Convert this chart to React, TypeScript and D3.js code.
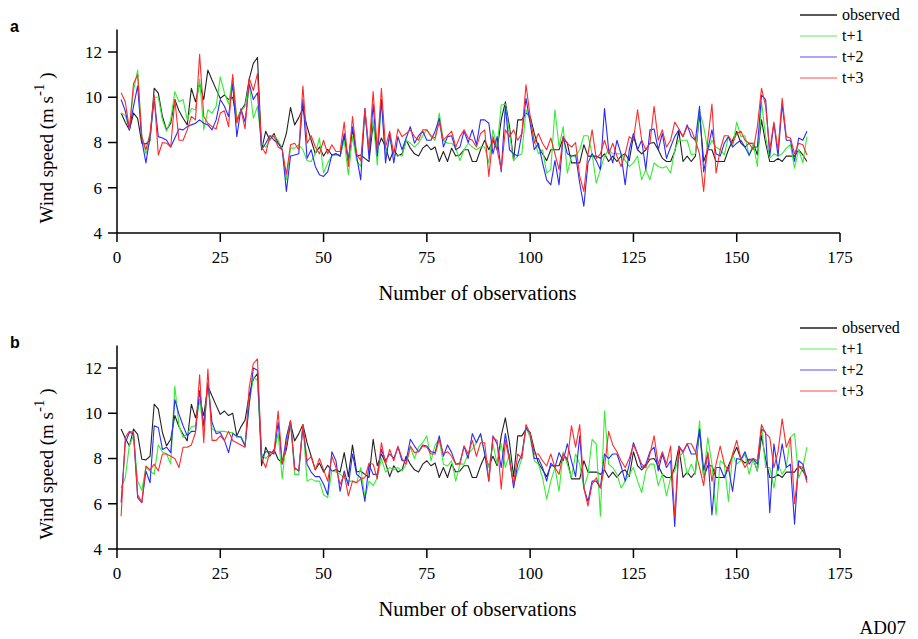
import React from "react";
import * as d3 from "d3";

// ---------- data ----------
const observed = [
  9.3, 8.9, 8.55, 9.3, 9.07, 7.97, 7.94, 8.1, 10.4, 10.18, 9.15, 8.56, 8.85, 9.9, 9.4, 9.07, 8.78, 10.4, 9.8, 10.6,
  9.9, 11.2, 10.76, 10.35, 9.95, 10.1, 9.9, 10.0, 9.0, 9.4, 9.7, 10.8, 11.5, 11.76, 7.68, 8.5, 8.1, 8.4, 7.97, 7.8,
  8.4, 9.55, 8.78, 9.1, 9.5, 8.7, 8.1, 7.5, 7.8, 7.4, 7.7, 7.45, 7.5, 7.4, 8.26, 7.2, 8.6, 7.4, 7.45, 7.3,
  7.16, 8.85, 7.68, 8.2, 7.8, 7.2, 7.68, 7.4, 7.5, 8.1, 7.75, 7.5, 7.4, 7.75, 7.9, 7.68, 7.8, 7.16, 7.6, 7.16,
  7.75, 7.4, 7.45, 7.68, 7.68, 7.16, 7.16, 7.68, 8.1, 7.68, 8.1, 7.68, 9.0, 9.8, 8.7, 7.2, 9.0, 9.0, 9.3, 9.15,
  8.4, 7.8, 7.5, 7.2, 7.68, 7.68, 7.68, 8.2, 7.97, 7.1, 7.1, 7.1, 7.9, 7.4, 7.4, 7.4, 7.3, 7.5, 7.16, 7.4,
  7.16, 7.4, 7.5, 7.2, 8.3, 7.68, 7.5, 7.68, 7.97, 8.0, 7.68, 7.3, 7.16, 7.16, 7.6, 8.5, 7.16, 7.4, 7.16, 7.4,
  9.3, 7.16, 7.68, 7.68, 7.16, 7.16, 7.16, 7.68, 8.1, 8.5, 7.97, 7.8, 7.97, 7.97, 7.45, 9.0, 7.97, 7.16, 7.16, 7.3,
  7.16, 7.4, 7.4, 7.4, 7.68, 7.45, 7.16,
];

const aT1 = [
  9.3, 9.2, 8.6, 10.3, 11.2, 8.3, 7.5, 8.1, 10.0, 10.0, 9.0, 8.5, 9.0, 10.25, 9.8, 9.9, 9.0, 9.5, 9.45, 10.8,
  8.56, 9.45, 9.3, 9.6, 10.9, 10.2, 9.7, 10.9, 9.07, 9.4, 9.6, 10.6, 9.07, 9.6, 7.97, 7.8, 8.1, 8.3, 8.1, 7.7,
  6.35, 7.75, 7.75, 7.9,
  7.68, 7.2, 7.16, 7.5, 8.2, 6.65, 7.1, 7.4, 7.45, 7.4, 8.1, 6.57, 8.26, 7.2, 6.94, 9.3, 7.68, 9.0, 7.0, 9.9,
  7.4, 8.2, 7.45, 7.45, 7.4, 8.1, 7.97, 7.8, 7.97, 8.3, 8.56, 8.26, 8.1, 9.3, 8.1, 7.97, 7.97, 7.75, 7.2, 7.68,
  7.97, 7.8, 7.68, 7.8,
  7.8, 7.1, 8.56, 7.8, 9.66, 9.7, 8.4, 7.2, 7.4, 7.5, 9.45, 9.0, 8.1, 7.5, 7.68, 6.65, 6.8, 9.45, 7.8, 8.7,
  6.65, 7.4, 7.4, 7.68, 8.3, 8.3, 7.5, 6.2, 6.8, 7.4, 7.68, 7.5, 7.5, 7.5, 7.2, 6.94, 7.1, 7.4, 6.35, 6.8, 6.35,
  7.1, 6.94, 6.87, 6.94, 6.65, 7.68, 8.1, 8.1, 8.1, 7.45, 7.5, 9.4, 8.7, 7.68, 8.1, 7.8, 7.68, 7.45, 8.26, 7.8,
  8.9, 8.26, 8.3, 7.4, 7.97, 6.94, 9.8, 8.26, 7.3, 7.5, 7.4, 7.5, 7.75, 7.9, 6.87, 7.68, 7.1, 8.26,
];

const aT2 = [
  9.9, 9.4, 8.56, 9.6, 10.5, 8.1, 7.1, 8.26, 9.95, 8.26, 8.2, 8.1, 7.8, 8.2, 8.6, 8.56, 8.7, 8.78, 8.85, 9.0,
  8.85, 8.78, 8.56, 9.0, 9.9, 9.6, 9.15, 10.6, 8.26, 9.5, 8.9, 10.6, 9.9, 10.2, 7.68, 7.97, 8.3, 8.1, 7.97, 7.68,
  5.84, 7.4, 7.45, 7.5,
  9.9, 7.3, 7.68, 6.94, 6.57, 6.5, 6.7, 7.45, 7.5, 7.4, 8.4, 7.2, 8.7, 7.4, 6.35, 9.5, 7.3, 9.7, 7.4, 9.9,
  7.1, 8.4, 7.1, 8.26, 7.68, 8.2, 8.7, 7.97, 8.3, 8.5, 8.1, 8.1, 8.5, 9.07, 7.8, 8.26, 8.3, 7.68, 7.8, 8.5,
  8.0, 8.56, 7.9, 9.0,
  9.0, 8.85, 7.5, 8.26, 6.7, 9.6, 7.68, 7.5, 7.4, 8.4, 9.95, 8.85, 7.68, 7.97, 7.1, 6.35, 6.13, 7.2, 6.13, 8.26,
  7.5, 7.4, 7.45, 6.2, 5.18, 7.1, 7.5, 7.2, 6.8, 9.5, 7.68, 7.1, 8.1, 7.5, 6.13, 7.68, 8.4, 7.68, 8.1, 6.8, 8.56,
  8.6, 7.68, 8.4, 7.3, 7.8, 8.26, 8.56, 8.26, 8.78, 8.26, 8.1, 9.6, 6.7, 7.68, 8.56, 7.5, 7.4, 7.97, 8.26, 7.8,
  7.97, 8.1, 7.8, 7.45, 7.8, 7.8, 10.1, 9.9, 7.4, 8.85, 7.4, 9.7, 8.1, 8.1, 7.16, 8.2, 8.1, 8.5,
];

const aT3 = [
  10.2, 9.8, 8.6, 10.6, 11.0, 8.26, 7.68, 8.4, 10.1, 7.45, 8.0, 7.97, 7.8, 9.9, 8.1, 8.1, 8.56, 9.15, 9.0, 11.9,
  9.15, 8.85, 8.7, 8.6, 9.3, 9.4, 8.7, 11.0, 8.85, 9.45, 8.6, 10.85, 10.3, 11.05, 7.8, 7.5, 8.3, 8.26, 7.8, 7.68,
  6.6, 7.9, 7.97, 7.68,
  10.5, 7.97, 8.3, 7.8, 7.5, 8.1, 7.5, 7.9, 7.6, 7.6, 8.9, 6.94, 9.15, 7.5, 7.2, 9.5, 7.68, 10.25, 7.68, 10.4,
  7.8, 8.5, 7.5, 8.6, 8.26, 8.4, 8.56, 8.26, 8.1, 8.56, 8.56, 8.3, 8.2, 8.9, 8.1, 8.3, 8.5, 7.8, 8.26, 8.56,
  8.2, 8.1, 7.8, 8.4,
  8.56, 6.5, 8.26, 7.68, 6.8, 8.56, 8.26, 8.56, 8.1, 8.4, 10.55, 9.15, 7.97, 8.4, 7.97, 7.68, 8.2, 7.5, 6.8, 8.26,
  7.97, 7.8, 8.0, 6.5, 5.84, 7.5, 8.56, 7.3, 7.5, 8.1, 7.5, 7.97, 7.4, 6.94, 7.5, 8.26, 8.1, 9.45, 8.1, 7.68, 7.97,
  9.6, 8.1, 8.56, 7.8, 8.1, 8.9, 8.6, 8.26, 8.7, 8.56, 8.1, 7.5, 5.84, 8.1, 9.7, 6.65, 7.68, 8.3, 8.3, 7.97,
  8.4, 8.5, 8.1, 7.97, 7.68, 8.7, 10.4, 9.6, 7.68, 8.9, 7.68, 9.95, 8.26, 8.2, 7.5, 7.97, 7.9, 7.45,
];

const bT1 = [
  6.7, 7.15, 8.6, 9.0, 7.0, 6.6, 7.6, 7.45, 7.3, 8.6, 8.3, 8.2, 7.75, 11.2, 9.45, 8.93, 9.1, 9.4, 9.45, 10.6,
  9.2, 11.3, 9.3, 9.2, 9.2, 9.2, 9.15, 9.15, 8.93, 9.0, 8.6, 10.4, 11.6, 11.45, 8.2, 8.0, 8.2, 8.26, 9.1, 7.1,
  8.93, 9.67, 7.3, 7.3,
  9.5, 7.0, 7.1, 7.0, 7.0, 6.4, 6.27, 7.45, 7.4, 7.3, 7.15, 7.0, 7.0, 6.93, 7.6, 6.27, 7.0, 6.8, 7.15, 8.0,
  7.4, 7.6, 7.5, 7.6, 7.45, 7.75, 8.5, 8.0, 8.5, 8.7, 9.0, 7.9, 8.6, 8.85, 7.75, 7.67, 7.9, 7.0, 7.75, 7.75,
  8.2, 8.4, 8.7, 9.1,
  8.2, 7.6, 8.65, 7.75, 8.65, 7.6, 8.2, 6.86, 7.45, 8.0, 9.37, 8.93, 7.9, 7.75, 7.15, 6.2, 7.0, 7.6, 6.55, 8.3,
  7.75, 7.15, 8.2, 7.75, 6.7, 7.3, 8.85, 8.65, 5.45, 10.1, 7.75, 7.6, 7.3, 6.7, 7.0, 7.3, 7.6, 7.0, 6.5, 7.45, 7.75,
  7.75, 6.8, 7.3, 6.35, 7.15, 7.45, 8.0, 8.3, 7.3, 7.75, 7.3, 9.67, 7.15, 8.93, 7.75, 5.5, 7.9, 7.75, 6.1, 8.2,
  7.75, 7.9, 8.2, 7.3, 8.0, 7.45, 9.45, 7.6, 7.6, 6.7, 7.75, 7.3, 7.6, 8.93, 9.1, 7.15, 7.6, 8.5,
];

const bT2 = [
  6.05, 8.7, 9.15, 9.1, 6.27, 6.05, 7.45, 6.93, 9.45, 9.37, 8.4, 8.5, 8.26, 10.6, 9.96, 9.45, 9.0, 9.2, 9.2, 11.0,
  9.45, 11.35, 9.6, 9.1, 9.15, 8.8, 8.26, 9.1, 9.0, 8.93, 8.55, 10.4, 12.0, 11.9, 8.0, 8.3, 8.3, 8.2, 9.6, 7.75,
  8.93, 9.67, 7.6, 7.45,
  9.45, 7.75, 7.4, 7.2, 7.2, 6.86, 6.4, 8.3, 7.9, 6.55, 7.45, 6.8, 8.2, 7.3, 7.15, 6.1, 7.75, 7.3, 7.3, 8.4,
  7.9, 8.2, 8.0, 8.5, 7.9, 7.9, 8.85, 8.55, 8.3, 8.6, 8.55, 8.3, 8.26, 9.0, 8.1, 8.6, 8.26, 7.75, 7.8, 8.55,
  8.0, 9.1, 8.7, 9.1,
  8.2, 7.0, 9.0, 8.65, 7.6, 9.1, 8.0, 6.7, 7.75, 8.2, 9.37, 9.1, 8.0, 8.0, 7.6, 7.0, 7.8, 7.6, 8.26, 7.9,
  8.65, 7.9, 7.2, 9.0, 6.7, 6.1, 7.0, 7.0, 6.7, 8.2, 8.0, 8.2, 8.2, 7.67, 7.0, 7.75, 8.7, 8.2, 7.6, 7.75, 8.3,
  8.5, 7.45, 8.2, 7.6, 7.9, 5.0, 8.55, 8.3, 8.65, 8.2, 8.2, 9.3, 7.5, 8.2, 5.5, 7.6, 7.6, 7.15, 7.6, 6.55,
  8.0, 7.95, 8.3, 7.75, 8.0, 7.75, 9.3, 9.15, 5.6, 8.65, 7.45, 8.65, 7.6, 7.75, 5.1, 7.9, 7.75, 7.05,
];

const bT3 = [
  5.45, 8.93, 9.2, 9.15, 6.4, 6.05, 7.67, 7.5, 7.75, 7.45, 8.2, 8.2, 8.1, 8.0, 7.6, 8.5, 8.5, 8.6, 9.15, 11.7,
  8.7, 11.95, 8.8, 8.8, 9.0, 8.8, 9.2, 8.8, 8.7, 8.6, 8.5, 11.15, 12.2, 12.4, 8.0, 7.6, 8.3, 8.26, 10.1, 7.8,
  8.6, 9.67, 7.5, 7.5,
  9.5, 7.9, 8.1, 7.5, 8.0, 7.5, 7.0, 8.1, 7.6, 6.86, 7.3, 6.35, 7.0, 6.93, 7.1, 7.15, 7.8, 7.75, 7.1, 8.7,
  7.75, 8.4, 7.9, 8.55, 8.0, 7.75, 8.55, 8.26, 8.3, 8.55, 8.5, 8.2, 8.2, 8.85, 8.2, 8.3, 8.1, 7.75, 7.75, 8.55,
  8.2, 8.8, 8.1, 8.7,
  8.7, 7.0, 8.93, 8.8, 6.64, 8.8, 7.9, 6.86, 8.2, 8.0, 9.5, 9.1, 8.2, 8.2, 7.9, 7.67, 8.2, 7.6, 7.3, 8.2,
  7.9, 9.45, 8.5, 9.5, 6.7, 5.9, 6.86, 7.15, 6.7, 7.6, 9.2, 8.6, 8.3, 7.9, 7.6, 8.0, 8.6, 8.2, 7.75, 7.6, 8.2,
  9.0, 7.75, 8.3, 7.75, 8.55, 5.4, 8.5, 8.26, 8.65, 8.65, 8.3, 7.6, 6.8, 8.3, 7.0, 7.75, 8.55, 7.75, 7.45, 8.2,
  8.8, 8.0, 7.6, 7.9, 8.0, 7.9, 9.5, 9.1, 8.93, 7.6, 8.3, 9.75, 8.5, 8.93, 6.0, 7.67, 7.6, 6.93,
];

const xTicks = [0, 25, 50, 75, 100, 125, 150, 175];
const yTicks = [4, 6, 8, 10, 12];
const seriesNames = ["observed", "t+1", "t+2", "t+3"];
const seriesColors = ["#222222", "#33ee33", "#2a2aff", "#ff2a2a"];

const SERIF = "'Liberation Serif', 'Times New Roman', Times, serif";

type PanelProps = {
  label: string;
  top: number; // y offset of the panel
  data: number[][];
  legendY: number;
};

const X0 = 117;
const X1 = 840;

function Panel({ label, top, data, legendY }: PanelProps) {
  const x = d3.scaleLinear().domain([0, 175]).range([X0, X1]);
  const y = d3.scaleLinear().domain([4, 13]).range([top + 233, top + 29.4]);
  const line = d3
    .line<number>()
    .x((_, i) => x(i + 1))
    .y((d) => y(d));
  const base = y(4);
  const yTop = y(13);
  return (
    <g>
      <text x={10} y={top + 32} fontFamily="'Liberation Sans', Arial, sans-serif" fontWeight="bold" fontSize={16}>
        {label}
      </text>
      {/* series */}
      {data.map((s, k) => (
        <path key={k} d={line(s) || ""} fill="none" stroke={seriesColors[k]} strokeWidth={1.1} strokeLinejoin="round" />
      ))}
      {/* axes */}
      <line x1={X0} x2={X0} y1={yTop} y2={base} stroke="#000" strokeWidth={1.5} />
      <line x1={X0} x2={X1} y1={base} y2={base} stroke="#000" strokeWidth={1.5} />
      {yTicks.map((t) => (
        <g key={t}>
          <line x1={X0 - 9} x2={X0} y1={y(t)} y2={y(t)} stroke="#000" strokeWidth={1.5} />
          <text x={X0 - 15} y={y(t)} dy="0.35em" textAnchor="end" fontFamily={SERIF} fontSize={17}>
            {t}
          </text>
        </g>
      ))}
      {xTicks.map((t) => (
        <g key={t}>
          <line x1={x(t)} x2={x(t)} y1={base} y2={base + 9} stroke="#000" strokeWidth={1.5} />
          <text x={x(t)} y={base + 30} textAnchor="middle" fontFamily={SERIF} fontSize={17}>
            {t}
          </text>
        </g>
      ))}
      <text x={(X0 + X1) / 2 - 1} y={base + 67} textAnchor="middle" fontFamily={SERIF} fontSize={20.5}>
        Number of observations
      </text>
      <text
        transform={`translate(53, ${top + 148}) rotate(-90)`}
        textAnchor="middle"
        fontFamily={SERIF}
        fontSize={19}
      >
        Wind speed (m s
        <tspan fontSize={15} dy={-9}>
          -1
        </tspan>
        <tspan dy={9}> )</tspan>
      </text>
      {/* legend */}
      {seriesNames.map((n, k) => (
        <g key={n}>
          <line
            x1={800}
            x2={837}
            y1={legendY + k * 21}
            y2={legendY + k * 21}
            stroke={seriesColors[k]}
            strokeOpacity={k === 0 ? 1 : 0.55}
            strokeWidth={1.5}
          />
          <text x={842} y={legendY + k * 21} dy="0.33em" fontFamily={SERIF} fontSize={16}>
            {n}
          </text>
        </g>
      ))}
    </g>
  );
}

export default function App() {
  return (
    <svg
      width={918}
      height={639}
      style={{ position: "absolute", left: 0, top: 0, background: "#fff" }}
    >
      <rect width={918} height={639} fill="#fff" />
      <Panel label="a" top={0} data={[observed, aT1, aT2, aT3]} legendY={15} />
      <Panel label="b" top={316} data={[observed, bT1, bT2, bT3]} legendY={328} />
      <text x={906} y={634} textAnchor="end" fontFamily={SERIF} fontSize={19}>
        AD07
      </text>
    </svg>
  );
}
